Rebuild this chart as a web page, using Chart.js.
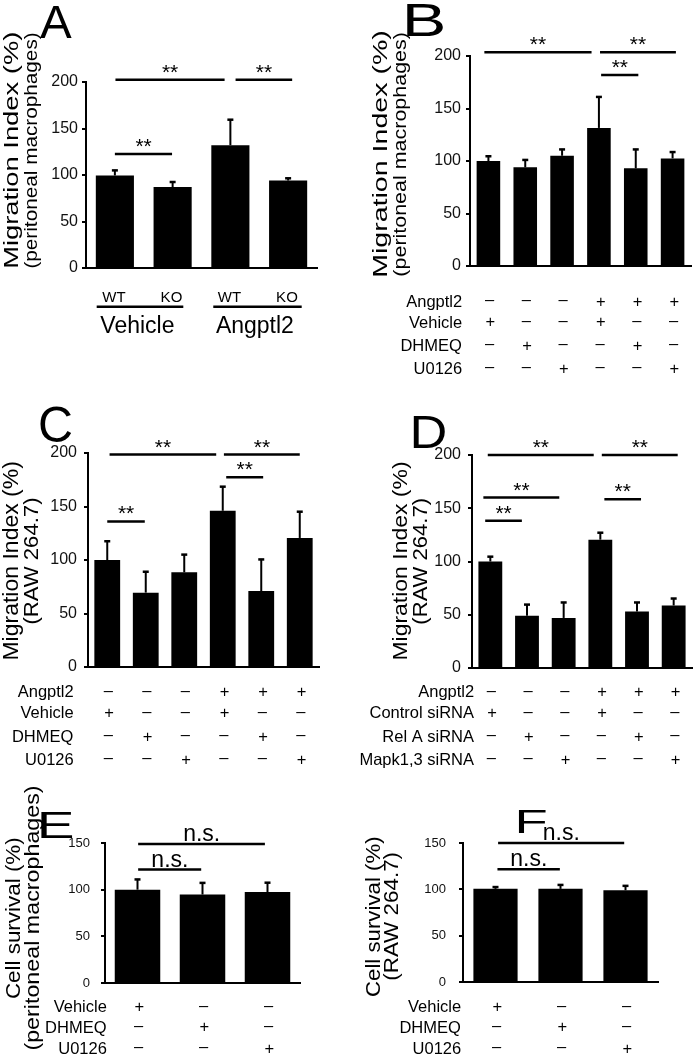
<!DOCTYPE html>
<html>
<head>
<meta charset="utf-8">
<script src="https://cdn.jsdelivr.net/npm/chart.js@4.4.0/dist/chart.umd.min.js"></script>
<style>
  html, body { margin: 0; padding: 0; background: #fff; }
  #fig { position: relative; width: 693px; height: 1057px; overflow: hidden; }
  #fig canvas { position: absolute; }
</style>
</head>
<body>
<div id="fig"></div>
<script>
const FONT = '"Liberation Sans", Arial, Helvetica, sans-serif';

// ---- data ----
// A: peritoneal macrophages, WT / KO
const labelsA = ["Vehicle WT", "Vehicle KO", "Angptl2 WT", "Angptl2 KO"];
const valuesA = [99.5, 87, 132, 94];
const errorsA = [6, 6, 28, 3];
const genotypeA = ["WT", "KO", "WT", "KO"];
const groupsA = ["Vehicle", "Angptl2"];
const bracketsA = [[0.01, 1.9, 202.5, "**"], [2.09, 3.07, 202.5, "**"], [0, 0.99, 122.5, "**"]];

// B: peritoneal macrophages, inhibitors
const labelsB = ["1", "2", "3", "4", "5", "6"];
const valuesB = [100, 94, 105, 131.5, 93, 102.5];
const errorsB = [5, 7.5, 6.5, 30, 18.5, 6.5];
const bracketsB = [[-0.11, 2.8, 203.5, "**"], [3.03, 5.09, 203.5, "**"], [3.06, 4.07, 182, "**"]];
const rowsB = ["Angptl2", "Vehicle", "DHMEQ", "U0126"];
const signsB = ["---+++", "+--+--", "-+--+-", "--+--+"];

// C: RAW 264.7, inhibitors
const labelsC = ["1", "2", "3", "4", "5", "6"];
const valuesC = [100, 69.5, 88.5, 146, 71, 120.6];
const errorsC = [18, 20, 17, 23, 30, 25];
const bracketsC = [[0.06, 2.83, 198.5, "**"], [3.03, 5.0, 198.5, "**"], [3.09, 4.05, 177.4, "**"], [0, 0.975, 136, "**"]];
const rowsC = ["Angptl2", "Vehicle", "DHMEQ", "U0126"];
const signsC = ["---+++", "+--+--", "-+--+-", "--+--+"];

// D: RAW 264.7, siRNA
const labelsD = ["1", "2", "3", "4", "5", "6"];
const valuesD = [100, 49, 47, 120.5, 53, 58.7];
const errorsD = [5, 11, 15, 7, 9, 7];
const bracketsD = [[-0.07, 2.82, 200, "**"], [3.04, 5.11, 200, "**"], [-0.19, 1.88, 160, "**"], [-0.14, 0.86, 138.3, "**"], [3.11, 4.11, 158.5, "**"]];
const rowsD = ["Angptl2", "Control siRNA", "Rel A siRNA", "Mapk1,3 siRNA"];
const signsD = ["---+++", "+--+--", "-+--+-", "--+--+"];

// E: cell survival, peritoneal macrophages
const labelsE = ["Vehicle", "DHMEQ", "U0126"];
const valuesE = [100, 94.8, 97.5];
const errorsE = [11.5, 13, 10.5];
const bracketsE = [[0.01, 1.96, 149, "n.s."], [0.01, 0.98, 121.6, "n.s."]];
const rowsE = ["Vehicle", "DHMEQ", "U0126"];
const signsE = ["+--", "-+-", "--+"];

// F: cell survival, RAW 264.7
const labelsF = ["Vehicle", "DHMEQ", "U0126"];
const valuesF = [100.5, 100.5, 99];
const errorsF = [2.5, 4.8, 5.3];
const bracketsF = [[0.04, 1.98, 150, "n.s."], [0.03, 0.99, 121.7, "n.s."]];
const rowsF = ["Vehicle", "DHMEQ", "U0126"];
const signsF = ["+--", "-+-", "--+"];

// ---- layout (page pixels) ----
const Y_W = 40;
const panels = [
  { box: [0, 0, 346, 385], axis: [86, 317, 82, 268], max: 200, bar: 0.66, tickSize: 16, tickPad: 4,
    labels: labelsA, values: valuesA, errors: errorsA, brackets: bracketsA, gap: 11, markSize: 21,
    letter: ["A", 56, 21.5, 46, 32],
    titles: [["Migration Index (%)", 12, 150, 20, 235], ["(peritoneal macrophages)", 32.5, 150, 18.5, 235]],
    extra: drawGroupsA },
  { box: [346, 0, 347, 385], axis: [470, 691, 56, 266], max: 200, bar: 0.64, tickSize: 16, tickPad: 5,
    labels: labelsB, values: valuesB, errors: errorsB, brackets: bracketsB, gap: 11, markSize: 21,
    letter: ["B", 424.5, 20, 47, 37],
    titles: [["Migration Index (%)", 381.8, 154, 21, 245], ["(peritoneal macrophages)", 401, 154, 19, 243]],
    table: { rows: rowsB, signs: signsB, y: [301, 321.7, 345, 368.3], right: 462 } },
  { box: [0, 385, 346, 390], axis: [88, 319, 453, 667], max: 200, bar: 0.67, tickSize: 16, tickPad: 7,
    labels: labelsC, values: valuesC, errors: errorsC, brackets: bracketsC, gap: 11, markSize: 21,
    letter: ["C", 56, 423.5, 50, 32],
    titles: [["Migration Index (%)", 12, 561, 22, 197], ["(RAW 264.7)", 32.5, 561, 21, 125]],
    table: { rows: rowsC, signs: signsC, y: [691.5, 712.5, 736, 759], right: 73.5 } },
  { box: [346, 385, 347, 390], axis: [472, 692, 455, 668], max: 200, bar: 0.65, tickSize: 16, tickPad: 7,
    labels: labelsD, values: valuesD, errors: errorsD, brackets: bracketsD, gap: 11, markSize: 21,
    letter: ["D", 429.5, 431.5, 46, 33],
    titles: [["Migration Index (%)", 401.8, 561, 21, 197], ["(RAW 264.7)", 421, 561, 19.5, 125]],
    table: { rows: rowsD, signs: signsD, y: [691.5, 712.5, 736, 759], right: 474 } },
  { box: [0, 775, 346, 282], axis: [105, 300, 843, 983], max: 150, bar: 0.70, tickSize: 13, tickPad: 11,
    labels: labelsE, values: valuesE, errors: errorsE, brackets: bracketsE, gap: 9.5, markSize: 23,
    letter: ["E", 56.5, 824.5, 36, 33],
    titles: [["Cell survival (%)", 14.5, 918, 20, 160], ["(peritoneal macrophages)", 33, 918, 21, 263]],
    table: { rows: rowsE, signs: signsE, y: [1006.5, 1026.7, 1048], right: 106.7 } },
  { box: [346, 775, 347, 282], axis: [463, 658, 843, 982], max: 150, bar: 0.68, tickSize: 13, tickPad: 13,
    labels: labelsF, values: valuesF, errors: errorsF, brackets: bracketsF, gap: 9.5, markSize: 23,
    letter: ["F", 531.8, 821.5, 33, 28],
    titles: [["Cell survival (%)", 374.5, 917, 19.5, 160], ["(RAW 264.7)", 392.5, 916, 19.5, 127]],
    table: { rows: rowsF, signs: signsF, y: [1006.5, 1026.7, 1048], right: 461 } },
];

// draw text with its ink box centred (or right aligned) on x,y; w stretches it to a width
function drawText(ctx, text, x, y, size, o) {
  o = o || {};
  ctx.save();
  ctx.font = size + "px " + FONT;
  ctx.fillStyle = "#000";
  ctx.textAlign = "left";
  ctx.textBaseline = "alphabetic";
  const m = ctx.measureText(text);
  const l = m.actualBoundingBoxLeft, r = m.actualBoundingBoxRight;
  const sx = o.w ? o.w / (l + r) : 1;
  ctx.translate(x, y);
  if (o.rot) ctx.rotate(o.rot);
  ctx.scale(sx, 1);
  let dx = (l - r) / 2;
  if (o.align === "right") dx = -r;
  let dy = (m.actualBoundingBoxAscent - m.actualBoundingBoxDescent) / 2;
  if (o.cap) dy = size * 0.358;
  ctx.fillText(text, dx, dy);
  ctx.restore();
}

function hline(ctx, x1, x2, y, w) {
  ctx.save();
  ctx.strokeStyle = "#000";
  ctx.lineWidth = w || 2.5;
  ctx.beginPath();
  ctx.moveTo(x1, y);
  ctx.lineTo(x2, y);
  ctx.stroke();
  ctx.restore();
}

function drawGroupsA(ctx, xs) {
  genotypeA.forEach((g, i) => drawText(ctx, g, xs.getPixelForValue(i) - 1, 296.7, 15, { cap: true }));
  const spans = [[-0.315, 1.185], [1.704, 3.235]];
  groupsA.forEach((g, i) => {
    const x1 = xs.getPixelForValue(spans[i][0]);
    const x2 = xs.getPixelForValue(spans[i][1]);
    hline(ctx, x1, x2, 306.7, 2.5);
    drawText(ctx, g, (x1 + x2) / 2 - 3, 324.8, 23, { cap: true });
  });
}

function decor(p) {
  return {
    id: "decor",
    afterDraw(chart) {
      const ctx = chart.ctx;
      const xs = chart.scales.x;
      const ys = chart.scales.y;
      const meta = chart.getDatasetMeta(0);
      ctx.save();
      ctx.translate(-p.box[0], -p.box[1]);
      const oxs = { getPixelForValue: (v) => xs.getPixelForValue(v) + p.box[0] };
      const yv = (v) => ys.getPixelForValue(v) + p.box[1];

      // error bars
      meta.data.forEach((bar, i) => {
        const x = bar.x + p.box[0];
        const top = yv(p.values[i] + p.errors[i]);
        ctx.strokeStyle = "#000";
        ctx.lineWidth = 2;
        ctx.beginPath();
        ctx.moveTo(x, bar.y + p.box[1]);
        ctx.lineTo(x, top);
        ctx.stroke();
        hline(ctx, x - 3, x + 3, top + 0.5, 2.5);
      });

      // significance brackets
      p.brackets.forEach(([a, b, v, label]) => {
        const x1 = oxs.getPixelForValue(a);
        const x2 = oxs.getPixelForValue(b);
        const y = yv(v);
        hline(ctx, x1, x2, y, 2.5);
        drawText(ctx, label, (x1 + x2) / 2, y - p.gap, p.markSize);
      });

      // panel letter
      const [ch, lx, ly, ls, lw] = p.letter;
      drawText(ctx, ch, lx, ly, ls, { w: lw });

      // y titles
      p.titles.forEach(([t, tx, ty, ts, tl]) => drawText(ctx, t, tx, ty, ts, { rot: -Math.PI / 2, w: tl }));

      // treatment table
      if (p.table) {
        const t = p.table;
        t.rows.forEach((row, r) => {
          drawText(ctx, row, t.right, t.y[r], 16.5, { align: "right", cap: true });
          t.signs[r].split("").forEach((s, c) => {
            drawText(ctx, s === "+" ? "+" : "\u2013", oxs.getPixelForValue(c) + 1.5, t.y[r], 16.5);
          });
        });
      }
      if (p.extra) p.extra(ctx, oxs);
      ctx.restore();
    },
  };
}

Chart.defaults.font.family = FONT;
const fig = document.getElementById("fig");

panels.forEach((p) => {
  const [bx, by, bw, bh] = p.box;
  const [left, right, top, bottom] = p.axis;
  const canvas = document.createElement("canvas");
  canvas.width = bw;
  canvas.height = bh;
  canvas.style.left = bx + "px";
  canvas.style.top = by + "px";
  fig.appendChild(canvas);

  new Chart(canvas, {
    type: "bar",
    data: {
      labels: p.labels,
      datasets: [
        {
          data: p.values,
          backgroundColor: "#000",
          borderWidth: 0,
          barPercentage: p.bar,
          categoryPercentage: 1,
        },
      ],
    },
    options: {
      responsive: false,
      animation: false,
      devicePixelRatio: 1,
      layout: {
        padding: { left: left - bx - Y_W, right: bx + bw - right, top: top - by, bottom: by + bh - bottom },
      },
      plugins: { legend: { display: false }, tooltip: { enabled: false } },
      scales: {
        x: {
          grid: { display: false },
          ticks: { display: false },
          border: { display: true, color: "#000", width: 2 },
          afterFit: (s) => { s.height = 0; },
        },
        y: {
          min: 0,
          max: p.max,
          ticks: { stepSize: 50, padding: p.tickPad, color: "#111", font: { size: p.tickSize } },
          grid: { display: true, drawOnChartArea: false, drawTicks: true, tickLength: 4, color: "#000", lineWidth: 2 },
          border: { display: true, color: "#000", width: 2 },
          afterFit: (s) => { s.width = Y_W; },
        },
      },
    },
    plugins: [decor(p)],
  });
});
</script>
</body>
</html>
